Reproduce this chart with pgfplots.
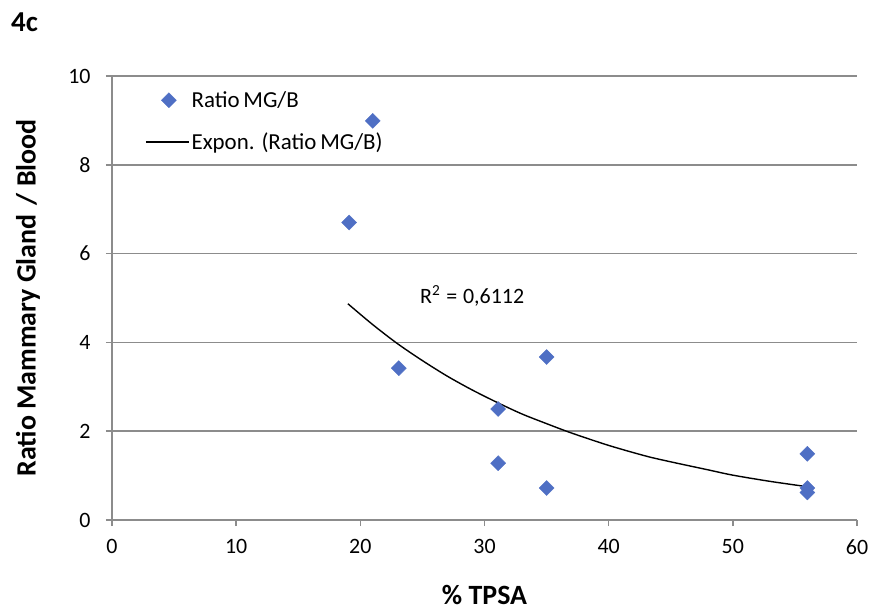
\documentclass[border=0pt]{standalone}
\usepackage{pgfplots}
\pgfplotsset{compat=1.18}
\usepackage{fontspec}
\setmainfont{Carlito}
\definecolor{ptblue}{HTML}{4F6FC4}
\definecolor{gridgray}{HTML}{8C8C8C}
\begin{document}
\begin{tikzpicture}
\path[use as bounding box] (-112bp,-90bp) rectangle (764bp,520bp);
\node[anchor=west,font=\fontsize{29}{33}\selectfont\bfseries, inner sep=0pt] at (-101bp,498bp) {4c};
\begin{axis}[
  at={(0,0)}, anchor=south west,
  scale only axis, width=745bp, height=444bp,
  xmin=0, xmax=60, ymin=0, ymax=10,
  xtick={0,10,...,60}, ytick={0,2,...,10},
  axis x line*=bottom, axis y line*=left,
  axis line style={gridgray, line width=1.5bp, -},
  ymajorgrids, grid style={gridgray, line width=1.5bp},
  tick style={gridgray, line width=1.5bp},
  tick align=outside, major tick length=6bp,
  /pgf/number format/assume math mode=true,
  tick label style={font=\fontsize{22}{26}\selectfont},
  xticklabel style={yshift=-10bp},
  yticklabel style={xshift=-12bp},
  xlabel={\bfseries\% TPSA},
  ylabel={\bfseries Ratio Mammary Gland\hspace{3bp} / Blood},
  label style={font=\fontsize{28}{32}\selectfont},
  xlabel style={at={(axis description cs:0.5,0)}, anchor=center, yshift=-75bp},
  ylabel style={at={(axis description cs:0,0.5)}, anchor=center, yshift=84bp},
  legend style={at={(axis description cs:0.0443,0.97)}, anchor=north west, draw=none, fill=none,
    font=\fontsize{23}{27}\selectfont, row sep=20bp, inner sep=0pt},
  legend cell align=left,
  clip=false,
]
\addplot[only marks, mark=square*, mark size=5.3bp, mark options={rotate=45, fill=ptblue, draw=ptblue},
  legend image code/.code={\path[draw=none] (0,0) -- (43bp,0); \path[draw=none] plot[only marks, mark=square*, mark size=5.3bp, mark options={rotate=45, fill=ptblue, draw=ptblue}] coordinates {(23bp,0)};}]
  coordinates {
  (19.1,6.70) (21.0,8.99) (23.1,3.42) (31.1,2.50) (31.1,1.28)
  (35.0,3.67) (35.0,0.72) (56.0,1.49) (56.0,0.72) (56.0,0.62)
  };
\addlegendentry{Ratio\,MG/B}
\addplot[black, line width=1.4bp, smooth, no marks,
  legend image code/.code={\draw[black, line width=1.4bp] (0,0) -- (43bp,0);}]
  coordinates {
  (19,4.87) (21,4.40) (23,3.97) (25,3.59) (27,3.24) (29,2.93) (31,2.65)
  (33,2.39) (35,2.17) (37,1.96) (40,1.68) (43,1.44) (45,1.31) (48,1.13)
  (50,1.01) (53,0.87) (56,0.75)
  };
\addlegendentry{Expon. (Ratio\,MG/B)}
\node[anchor=west, inner sep=0pt, font=\fontsize{22}{26}\selectfont] at (axis cs:24.8,5.05) {R\textsuperscript{2}\hspace{1bp} = \hspace{1bp}0,6112};
\end{axis}
\end{tikzpicture}
\end{document}
